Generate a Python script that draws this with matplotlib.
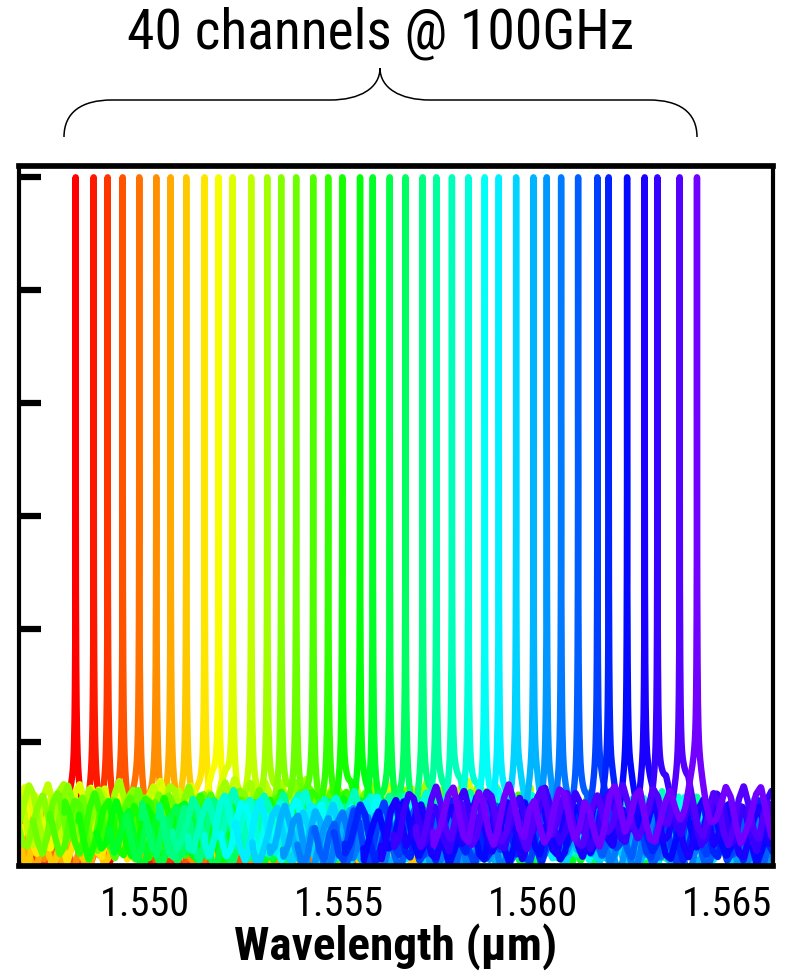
import numpy as np
import matplotlib.pyplot as plt
from matplotlib import font_manager
from matplotlib.path import Path
from matplotlib.patches import PathPatch

# a narrow Arial-like face if one is installed, otherwise plain Liberation Sans
installed = {f.name for f in font_manager.fontManager.ttflist}
narrow = [f for f in ['Liberation Sans Narrow', 'Roboto Condensed'] if f in installed]
if narrow:
    plt.rcParams['font.family'] = [narrow[0], 'Liberation Sans', 'DejaVu Sans']
    fs_title, fs_tick, fs_label = 40, 29, 34
else:
    plt.rcParams['font.family'] = ['Liberation Sans', 'DejaVu Sans']
    fs_title, fs_tick, fs_label = 35, 26, 30

# peak wavelengths of the 40 channels (um)
peaks = [1.548211, 1.548675, 1.549036, 1.549423, 1.549851, 1.550289, 1.550660,
         1.551062, 1.551536, 1.551897, 1.552258, 1.552737, 1.553150, 1.553510,
         1.553896, 1.554335, 1.554722, 1.555085, 1.555543, 1.555871,
         1.556309, 1.556714, 1.557157, 1.557510, 1.557912, 1.558335, 1.558758,
         1.559119, 1.559567, 1.560014, 1.560357, 1.560727, 1.561165, 1.561662,
         1.561954, 1.562428, 1.562882, 1.563209, 1.563784, 1.564230]

# noise floor level of each trace (dB)
floor_db = [-58.6, -59.2, -59.3, -59.3, -59.2, -59.0, -58.9, -58.6, -58.0, -57.0,
            -56.4, -56.6, -56.3, -56.8, -57.2, -57.6, -57.4, -57.8, -58.2, -58.4,
            -58.4, -58.2, -58.0, -57.5, -57.2, -57.4, -57.8, -58.0, -58.4, -58.6,
            -58.8, -58.9, -58.6, -58.2, -58.0, -58.2, -57.8, -57.0, -56.8, -56.6]

# ripple of the noise floor (dB around the floor level), one value every 0.00013 um
ripple = [0.0, 1.9, 2.6, 0.4, -1.8, -2.3, 0.2, 2.2, 1.1, -1.4, -2.6, -0.9, 1.6,
          2.9, 1.2, -1.1, -1.9, 0.5, 1.4, -0.6, -2.4, -1.7, 0.8, 2.4, 2.0, -0.3,
          -2.1, -1.2, 1.3, 0.4, -1.6, -2.8, -1.0, 1.8, 2.7, 0.9, -1.5, -0.4, 1.7,
          2.3, -0.2, -2.2, -2.5, -0.6, 1.0, 2.1, 0.3, -1.3, -0.7, 1.5, 3.0, 1.4,
          -0.8, -2.0, -1.1, 0.6, 2.5, 1.6, -0.9, -2.7, -1.5]

# broad pedestal around every peak (dB level, half width in um)
pedestal_db = -55.0
pedestal_hw = 0.00015

xticks = [1.550, 1.555, 1.560, 1.565]
yticks = [-60, -50, -40, -30, -20, -10, 0]

span = 0.0068
hw = 1.0e-7
step = 0.00013

fig = plt.figure(figsize=(7.9, 9.76), dpi=100)
ax = fig.add_axes([19 / 790, 1 - 866 / 976, (773 - 19) / 790, (866 - 166) / 976])

n = len(peaks)
rip = np.array(ripple)
reps = 2
ker = np.ones(25) / 25
for i, c in enumerate(peaks):
    x = np.linspace(c - span, c + span, 12001)
    vals = np.roll(np.tile(rip, reps + 1), i * 11)
    knots = c - span + np.arange(len(vals)) * step
    noise = np.convolve(np.interp(x, knots, vals), ker, mode='same')
    floor = 10 ** ((floor_db[i] + noise) / 10)
    ped = 10 ** (pedestal_db / 10) / (1.0 + ((x - c) / pedestal_hw) ** 2)
    lor = 1.0 / (1.0 + ((x - c) / hw) ** 2)
    y = 10 * np.log10(lor + ped + floor)
    col = plt.cm.hsv(0.75 * i / (n - 1))
    ax.plot(x, y, color=col, lw=4.6, solid_capstyle='round', solid_joinstyle='round')

ax.set_xlim(1.54675, 1.56619)
ax.set_ylim(-61, 1)
ax.set_xticks(xticks)
ax.set_xticklabels(['%.3f' % v for v in xticks])
ax.set_yticks(yticks)
ax.tick_params(axis='y', direction='in', length=16, width=4.5, labelleft=False)
ax.tick_params(axis='x', direction='in', length=10, width=3.5, labelsize=fs_tick, pad=14)
for s in ['top', 'bottom']:
    ax.spines[s].set_linewidth(4.1)
for s in ['left', 'right']:
    ax.spines[s].set_linewidth(3.0)
ax.set_xlabel('Wavelength (\u03bcm)', fontsize=fs_label, fontweight='bold', labelpad=-1)

# curly brace over the channels, in figure pixels
W, H = 790.0, 976.0
def P(px, py):
    return (px / W, 1 - py / H)

verts = [P(64, 137), P(64, 112), P(82, 100), P(112, 100),
         P(330, 100),
         P(360, 100), P(380, 88), P(380, 68),
         P(380, 88), P(400, 100), P(430, 100),
         P(649, 100),
         P(679, 100), P(697, 112), P(697, 137)]
codes = [Path.MOVETO, Path.CURVE4, Path.CURVE4, Path.CURVE4,
         Path.LINETO,
         Path.CURVE4, Path.CURVE4, Path.CURVE4,
         Path.CURVE4, Path.CURVE4, Path.CURVE4,
         Path.LINETO,
         Path.CURVE4, Path.CURVE4, Path.CURVE4]
brace = PathPatch(Path(verts, codes), transform=fig.transFigure, fill=False,
                  lw=1.1, edgecolor='black')
fig.patches.append(brace)

fig.text(381 / W, 1 - 48 / H, '40 channels @ 100GHz', ha='center', va='baseline',
         fontsize=fs_title)

fig.savefig('out.png', dpi=100)
